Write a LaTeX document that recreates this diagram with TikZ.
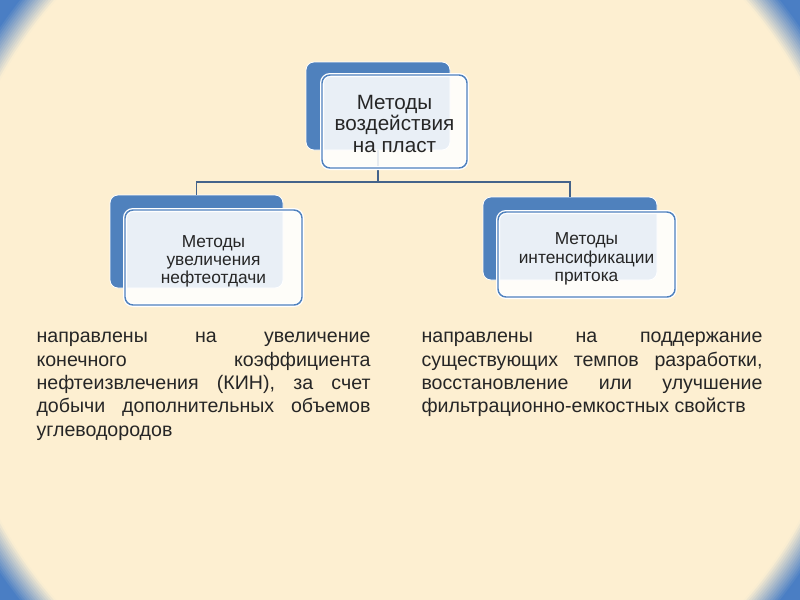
\documentclass[tikz,border=0pt]{standalone}
\usepackage{fontspec}
\setmainfont{Liberation Sans}
\usetikzlibrary{positioning}
\definecolor{cream}{HTML}{FDEFD1}
\definecolor{slideblue}{HTML}{4A7EC4}
\definecolor{boxblue}{HTML}{4F81BD}
\definecolor{linkblue}{HTML}{44638A}
\definecolor{inktext}{HTML}{262626}
\hyphenpenalty=10000
\exhyphenpenalty=10000

\begin{document}
\begin{tikzpicture}[x=0.75pt,y=-0.75pt,thick,
            back box/.style={rectangle,rounded corners=6pt,inner sep=0pt,fill=boxblue,draw=white,line width=0.6pt},
            front box/.style={rectangle,rounded corners=6pt,fill=white,fill opacity=0.88,text opacity=1,
                draw=boxblue,line width=1.1pt,preaction={draw=white,line width=3pt},text=inktext,align=center},
            link/.style={draw=linkblue,line width=1.3pt},
            note/.style={anchor=north west,inner sep=0pt,align=justify,text=inktext,
                font=\fontsize{14.7}{17.5}\selectfont}]

        % Background
        \useasboundingbox (0,0) rectangle (800,600);
        \begin{scope}
            \clip (-20,-20) rectangle (820,620);
            \fill[slideblue] (-20,-20) rectangle (820,620);
            \foreach \k in {0,...,14}{
                \pgfmathtruncatemacro\mix{100-7*\k}
                \fill[slideblue!\mix!cream] (400,300) circle[radius={486-2*\k}];
            }
            \fill[cream] (400,300) circle[radius=456];
        \end{scope}

        % Define boxes
        \node[back box,minimum width=108pt,minimum height=66pt] (topback) at (378,106) {};
        \node[back box,minimum width=129.75pt,minimum height=69.75pt] (leftback) at (196.5,241.5) {};
        \node[back box,minimum width=130.5pt,minimum height=62.25pt] (rightback) at (570,238.5) {};
        \coordinate (split) at (378,182);

        % Draw links
        \path[link] (topback.south) -- (split);
        \path[link] (leftback.north) |- (split) -| (rightback.north);

        \node[front box,minimum width=108.75pt,minimum height=69.75pt,font=\fontsize{15.5}{16.3}\selectfont]
            (top) at (394.5,121.5) {\rule{0pt}{14.1pt}Методы\\воздействия\\на пласт};
        \node[front box,minimum width=132.75pt,minimum height=71.25pt,font=\fontsize{13}{13.6}\selectfont]
            (left) at (213.5,257.5) {\rule{0pt}{15pt}Методы\\увеличения\\нефтеотдачи};
        \node[front box,minimum width=132.75pt,minimum height=63.75pt,font=\fontsize{13}{13.6}\selectfont]
            (right) at (586.5,254.5) {\rule{0pt}{15.5pt}Методы\\интенсификации\\притока};

        % Notes
        \node[note,text width=250.5pt] (leftnote) at (36,326)
            {\strut направлены на увеличение\linebreak конечного коэффициента\linebreak
            нефтеизвлечения (КИН), за счет\linebreak добычи дополнительных объемов\linebreak углеводородов};
        \node[note,text width=255.75pt] (rightnote) at (421,326)
            {\strut направлены на поддержание\linebreak существующих темпов разработки,\linebreak
            восстановление или улучшение\linebreak фильтрационно-емкостных свойств};

\end{tikzpicture}
\end{document}
